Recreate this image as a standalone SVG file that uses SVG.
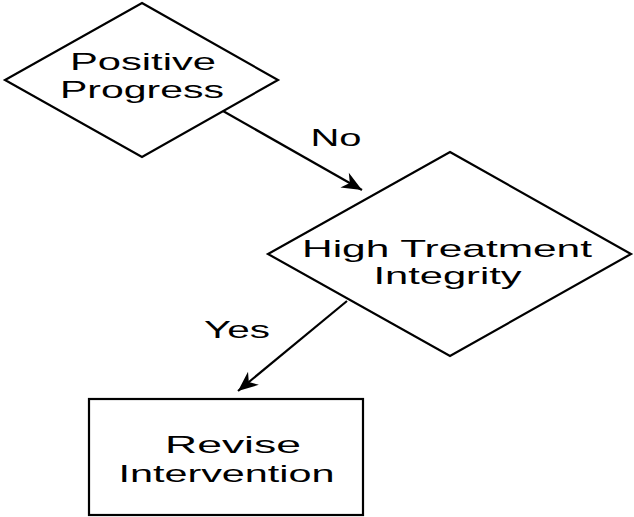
<svg xmlns="http://www.w3.org/2000/svg" width="634" height="517" viewBox="0 0 634 517">
  <style>
    .shape { fill: #ffffff; stroke: #000000; stroke-width: 2.2; }
    .edge { fill: none; stroke: #000000; stroke-width: 2.2; }
    text { font-family: "Liberation Sans", Arial, sans-serif; font-size: 24px; fill: #000000; text-anchor: middle; }
  </style>
  <defs>
    <marker id="arrow" markerUnits="userSpaceOnUse" markerWidth="24" markerHeight="20" viewBox="-22 -10 24 20" refX="0" refY="0" orient="auto">
      <path d="M0,0 L-20,-8.5 L-14,0 L-20,8.5 Z" fill="#000000"/>
    </marker>
  </defs>
  <rect width="634" height="517" fill="#ffffff"/>

  <g id="connectors">
    <line class="edge" x1="223" y1="111" x2="362" y2="190" marker-end="url(#arrow)"/>
    <text x="336" y="146" textLength="51" lengthAdjust="spacingAndGlyphs">No</text>
    <line class="edge" x1="347" y1="301" x2="238" y2="391" marker-end="url(#arrow)"/>
    <text x="237" y="338" textLength="66" lengthAdjust="spacingAndGlyphs">Yes</text>
  </g>

  <g id="positive-progress">
    <polygon class="shape" points="142,3 278,80 142,157 5,80"/>
    <text x="143" y="70" textLength="146" lengthAdjust="spacingAndGlyphs">Positive</text>
    <text x="142" y="97.5" textLength="164" lengthAdjust="spacingAndGlyphs">Progress</text>
  </g>

  <g id="high-treatment-integrity">
    <polygon class="shape" points="450,152 631,254 450,356 268,254"/>
    <text x="447" y="257" textLength="290" lengthAdjust="spacingAndGlyphs">High Treatment</text>
    <text x="447.5" y="284" textLength="148" lengthAdjust="spacingAndGlyphs">Integrity</text>
  </g>

  <g id="revise-intervention">
    <rect class="shape" x="89" y="399" width="274" height="116"/>
    <text x="233" y="453" textLength="136" lengthAdjust="spacingAndGlyphs">Revise</text>
    <text x="226.5" y="482" textLength="216" lengthAdjust="spacingAndGlyphs">Intervention</text>
  </g>
</svg>
